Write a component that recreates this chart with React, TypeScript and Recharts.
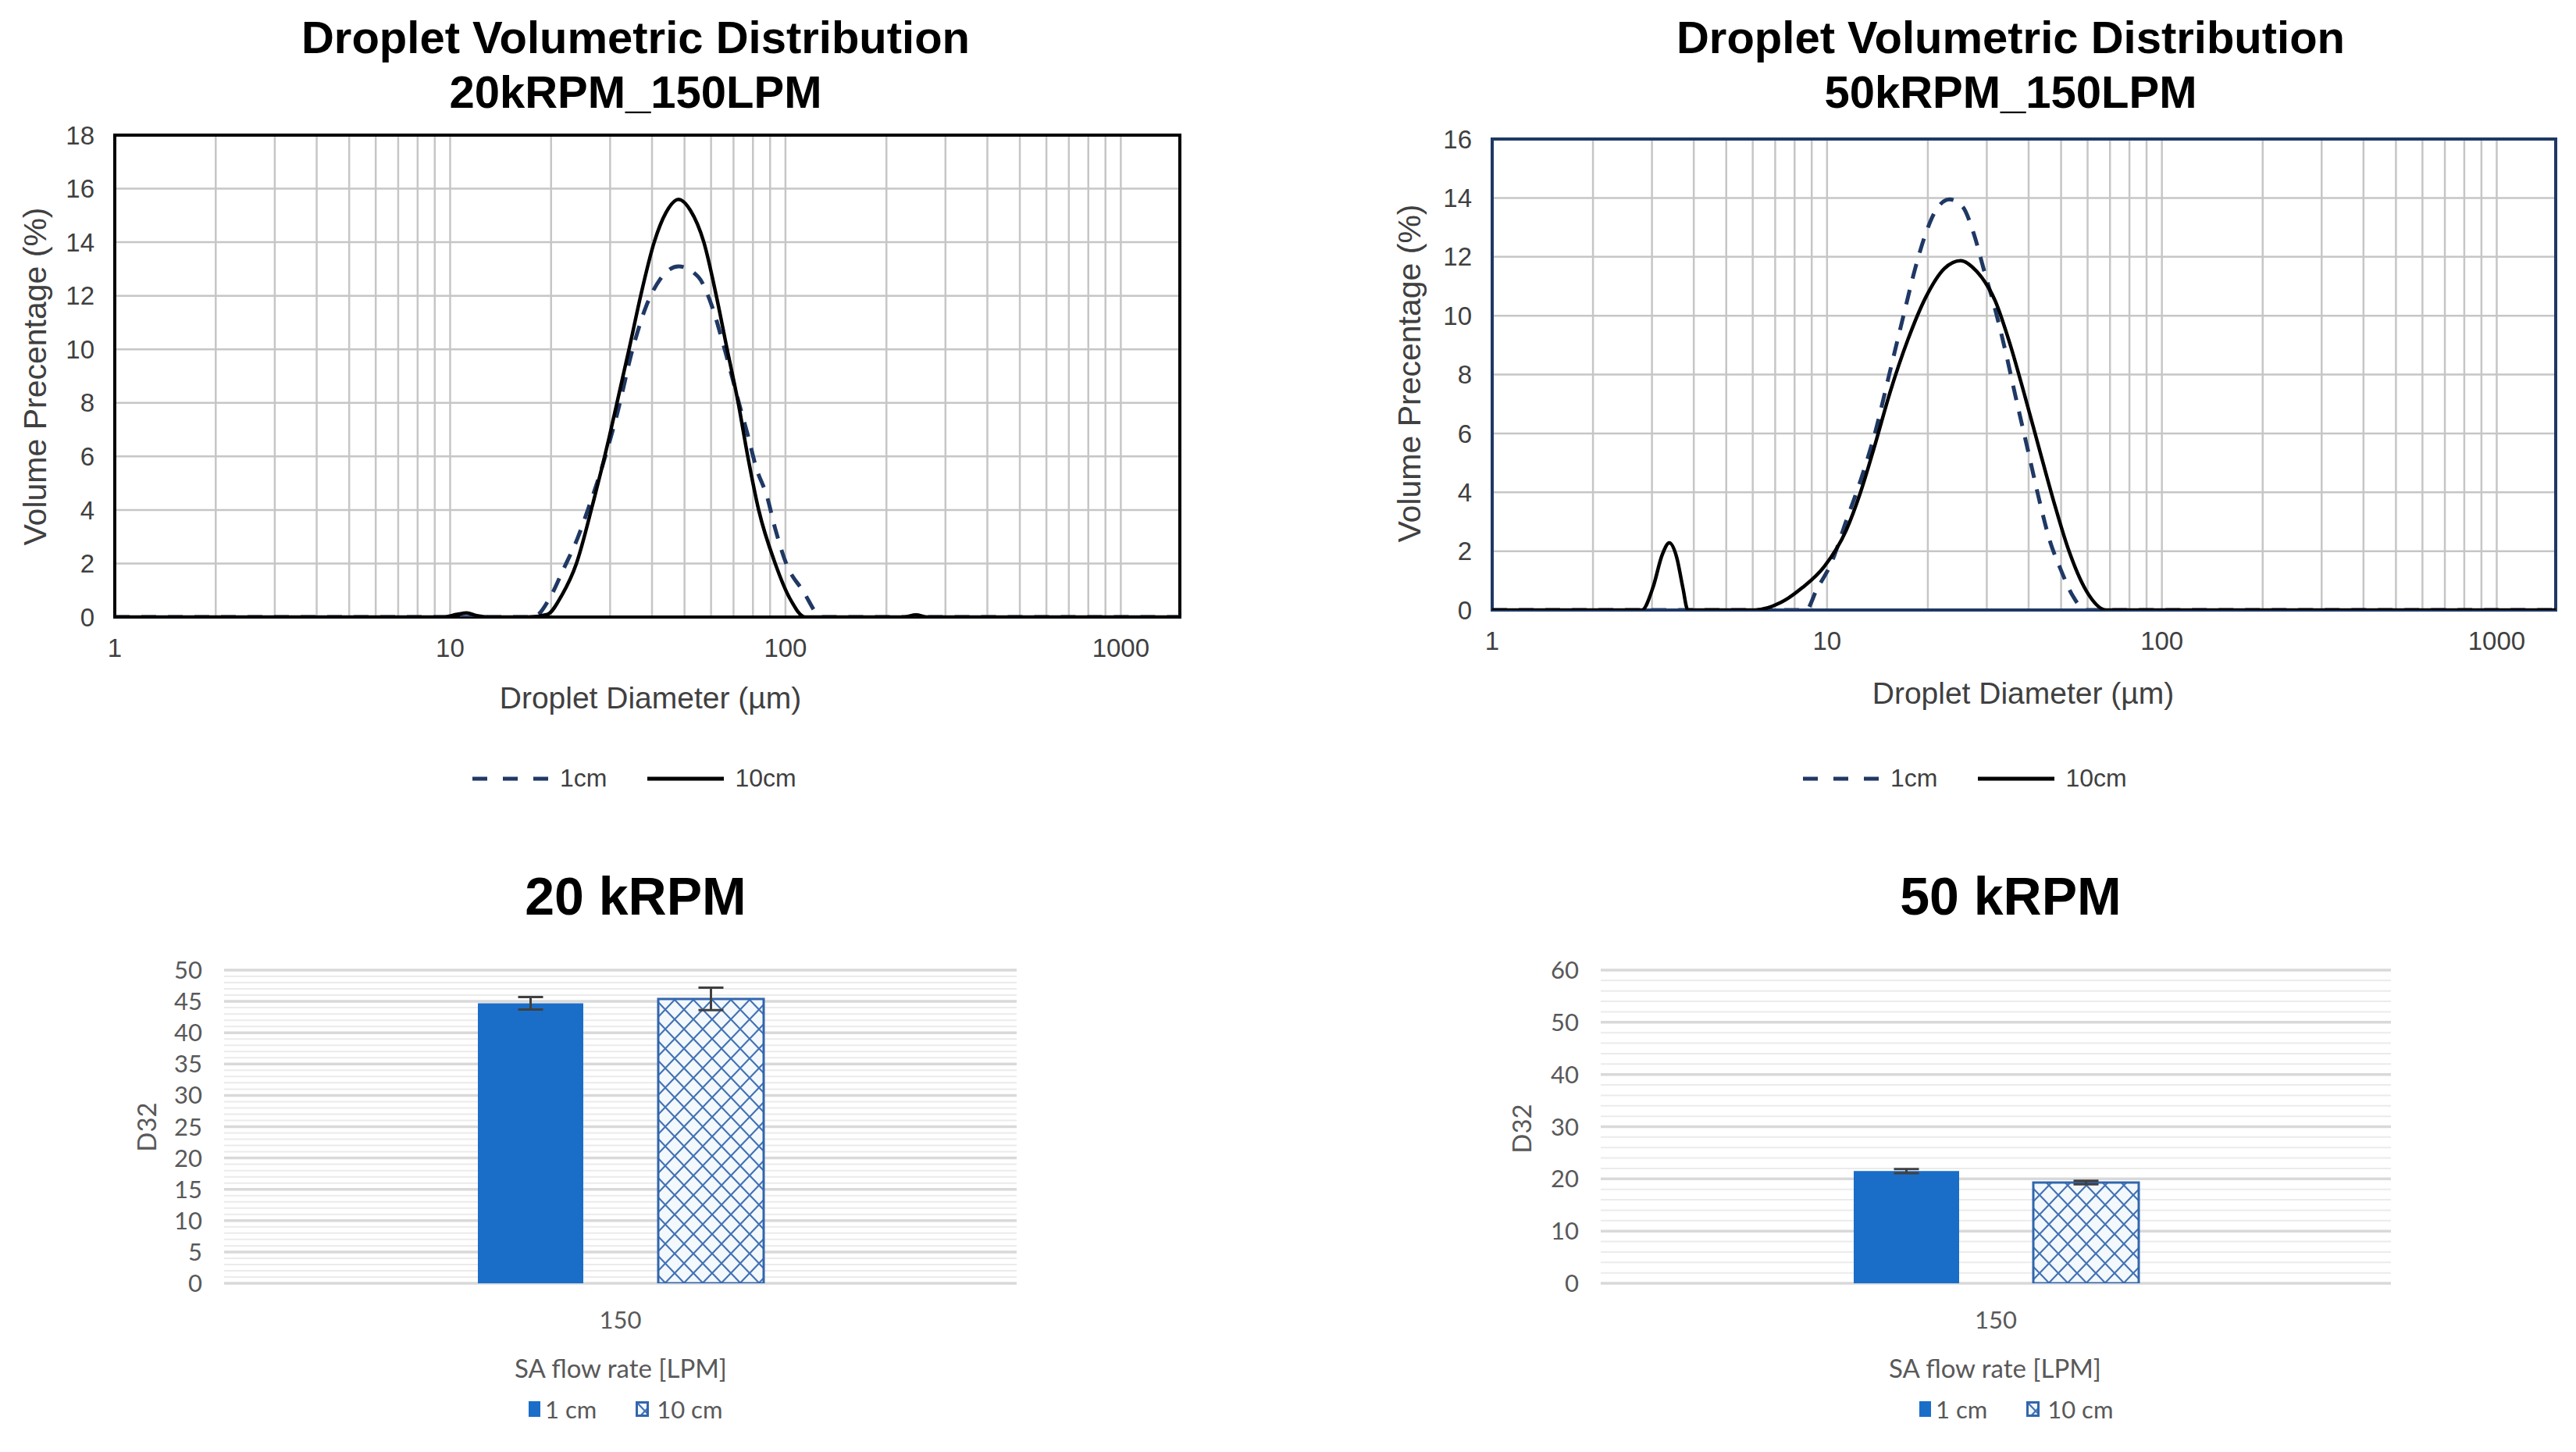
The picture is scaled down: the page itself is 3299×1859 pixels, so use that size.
import React from 'react'
import {
  LineChart,
  Line,
  XAxis,
  YAxis,
  CartesianGrid,
  ReferenceArea,
  BarChart,
  Bar,
  ErrorBar,
} from 'recharts'

// ---- droplet size distributions (diameter in µm, volume %) ----
const d20k1cm = [1, 10, 17.7, 19.9, 21.8, 24.0, 25.9, 27.9, 29.8, 31.5, 35.0, 38.4, 42.2, 48.0, 55.0, 60.4, 65.2, 73.0, 77.2, 81.7, 88.1, 93.2, 100.5, 112.5, 128.5, 1500]
const v20k1cm = [0, 0, 0, 0.75, 1.8, 2.95, 4.1, 5.3, 6.5, 7.6, 10.0, 11.6, 12.6, 13.1, 12.7, 11.6, 10.2, 7.9, 6.8, 5.6, 4.5, 3.3, 2.0, 1.0, 0, 0]

const d20k10cm = [1, 9.5, 10.5, 11.2, 12, 13, 17, 19.5, 21.5, 23.8, 26.6, 29.8, 32.1, 34.3, 37.0, 40.6, 44, 48.0, 52, 57.1, 62.2, 67.0, 72.3, 77.2, 83.2, 93.2, 103, 114.7, 225, 245, 265, 1500]
const v20k10cm = [0, 0, 0.1, 0.15, 0.05, 0, 0, 0.1, 0.8, 2, 4.2, 6.7, 8.5, 10.1, 12, 14, 15.1, 15.6, 15.2, 14, 12, 10, 8, 6, 4, 2, 0.7, 0, 0, 0.08, 0, 0]

const d50k1cm = [1, 8.65, 9.32, 10.3, 11.39, 12.59, 13.92, 15.38, 17.0, 18.33, 19.77, 21.3, 23.2, 25.4, 27.35, 29.5, 31.8, 34.3, 36.9, 39.8, 42.9, 46.2, 49.9, 53.7, 59.4, 1500]
const v50k1cm = [0, 0, 0.7, 1.6, 3.0, 4.4, 6.03, 8.06, 10.1, 11.6, 12.83, 13.64, 13.95, 13.7, 12.83, 11.5, 10.2, 8.67, 7.05, 5.43, 3.8, 2.38, 1.37, 0.56, 0, 0]

const d50k10cm = [1, 2.8, 3.02, 3.22, 3.38, 3.56, 3.71, 3.84, 6.1, 7.26, 8.44, 9.8, 11.39, 12.59, 13.92, 15.38, 17.43, 19.77, 22.4, 25.06, 28.0, 31.8, 35.1, 38.8, 42.9, 47.5, 52.5, 59.4, 68.2, 1500]
const v50k10cm = [0, 0, 0.76, 1.88, 2.28, 1.77, 0.76, 0, 0, 0.25, 0.76, 1.47, 2.69, 4.0, 5.63, 7.35, 9.18, 10.65, 11.6, 11.87, 11.5, 10.5, 9.08, 7.35, 5.53, 3.7, 2.08, 0.66, 0, 0]

const xTicks = [1, 10, 100, 1000]
const xGrid = [2, 3, 4, 5, 6, 7, 8, 9, 10, 20, 30, 40, 50, 60, 70, 80, 90, 100, 200, 300, 400, 500, 600, 700, 800, 900, 1000]
const yTicks20k = [0, 2, 4, 6, 8, 10, 12, 14, 16, 18]
const yTicks50k = [0, 2, 4, 6, 8, 10, 12, 14, 16]

// ---- D32 bars ----
const flowRates = ['150']
const d32_20k_1cm = [44.7]
const d32_20k_1cmErr = [1.0]
const d32_20k_10cm = [45.4]
const d32_20k_10cmErr = [1.8]
const d32_50k_1cm = [21.5]
const d32_50k_1cmErr = [0.4]
const d32_50k_10cm = [19.3]
const d32_50k_10cmErr = [0.35]

const barTicks20k = [0, 5, 10, 15, 20, 25, 30, 35, 40, 45, 50]
const barMinor20k = Array.from({ length: 51 }, (_, i) => i)
const barTicks50k = [0, 10, 20, 30, 40, 50, 60]
const barMinor50k = Array.from({ length: 31 }, (_, i) => i * 2)

const ARIAL = '"Liberation Sans", Arial, sans-serif'
const CALIBRI = 'Lato, "Open Sans", sans-serif'
const NAVY = '#1f3864'
const BLUE = '#1a6ec8'

const pts = (d: number[], v: number[]) => d.map((x, i) => ({ d: x, v: v[i] }))

function Txt({ x, y, children, style }: { x: number; y: number; children: React.ReactNode; style?: React.CSSProperties }) {
  return (
    <div
      style={{
        position: 'absolute',
        left: x,
        top: y,
        transform: 'translate(-50%, -50%)',
        whiteSpace: 'nowrap',
        lineHeight: 1,
        ...style,
      }}
    >
      {children}
    </div>
  )
}

function VTxt({ x, y, children, style }: { x: number; y: number; children: React.ReactNode; style?: React.CSSProperties }) {
  return (
    <div
      style={{
        position: 'absolute',
        left: x,
        top: y,
        transform: 'translate(-50%, -50%) rotate(-90deg)',
        whiteSpace: 'nowrap',
        lineHeight: 1,
        ...style,
      }}
    >
      {children}
    </div>
  )
}

interface DistProps {
  left: number
  width: number
  plotLeft: number
  plotRight: number
  plotTop: number
  plotBottom: number
  yMax: number
  yTicks: number[]
  frame: string
  dashed: { d: number; v: number }[]
  solid: { d: number; v: number }[]
}

function DistributionChart(p: DistProps) {
  const height = 1060
  return (
    <div style={{ position: 'absolute', left: p.left, top: 0 }}>
      <LineChart
        width={p.width}
        height={height}
        margin={{ top: p.plotTop, right: p.width - p.plotRight, left: 0, bottom: 0 }}
      >
        <CartesianGrid
          stroke="#c6c6c6"
          strokeWidth={2.5}
          verticalValues={xGrid}
          horizontalValues={p.yTicks}
        />
        <XAxis
          dataKey="d"
          type="number"
          scale="log"
          domain={[1, 1500]}
          ticks={xTicks}
          interval={0}
          allowDataOverflow
          axisLine={false}
          tickLine={false}
          tickMargin={22}
          height={height - p.plotBottom}
          tick={{ fill: '#404040', fontSize: 33, fontFamily: ARIAL }}
        />
        <YAxis
          type="number"
          domain={[0, p.yMax]}
          ticks={p.yTicks}
          interval={0}
          allowDataOverflow
          axisLine={false}
          tickLine={false}
          tickMargin={20}
          width={p.plotLeft}
          tick={{ fill: '#404040', fontSize: 33, fontFamily: ARIAL }}
        />
        <ReferenceArea x1={1} x2={1500} y1={0} y2={p.yMax} fill="none" stroke={p.frame} strokeWidth={4} />
        <Line
          data={p.dashed}
          dataKey="v"
          type="monotone"
          stroke={NAVY}
          strokeWidth={5}
          strokeDasharray="19 15"
          dot={false}
          isAnimationActive={false}
        />
        <Line
          data={p.solid}
          dataKey="v"
          type="monotone"
          stroke="#000"
          strokeWidth={4.5}
          dot={false}
          isAnimationActive={false}
        />
      </LineChart>
    </div>
  )
}

interface D32Props {
  left: number
  plotLeft: number
  plotRight: number
  yMax: number
  ticks: number[]
  minor: number[]
  a: number[]
  aErr: number[]
  b: number[]
  bErr: number[]
  barGap: number
}

function D32Chart(p: D32Props) {
  const width = 1600
  const height = 679
  const rows = flowRates.map((c, i) => ({ cat: c, a: p.a[i], aErr: p.aErr[i], b: p.b[i], bErr: p.bErr[i] }))
  return (
    <div style={{ position: 'absolute', left: p.left, top: 1180 }}>
      <BarChart
        width={width}
        height={height}
        data={rows}
        margin={{ top: 62, right: width - p.plotRight, left: 0, bottom: 0 }}
        barSize={135}
        barGap={p.barGap}
      >
        <CartesianGrid stroke="#ebebeb" strokeWidth={2} vertical={false} horizontalValues={p.minor} />
        <CartesianGrid stroke="#d9d9d9" strokeWidth={3.5} vertical={false} horizontalValues={p.ticks} />
        <XAxis
          dataKey="cat"
          axisLine={false}
          tickLine={false}
          tickMargin={30}
          height={height - 463}
          tick={{ fill: '#595959', fontSize: 31, fontFamily: CALIBRI }}
        />
        <YAxis
          domain={[0, p.yMax]}
          ticks={p.ticks}
          interval={0}
          allowDataOverflow
          axisLine={false}
          tickLine={false}
          tickMargin={22}
          width={p.plotLeft}
          tick={{ fill: '#595959', fontSize: 31, fontFamily: CALIBRI }}
        />
        <Bar dataKey="a" fill={BLUE} isAnimationActive={false}>
          <ErrorBar dataKey="aErr" width={16} stroke="#404040" strokeWidth={3} direction="y" />
        </Bar>
        <Bar dataKey="b" fill="url(#lattice)" stroke="#3266ad" strokeWidth={3} isAnimationActive={false}>
          <ErrorBar dataKey="bErr" width={16} stroke="#404040" strokeWidth={3} direction="y" />
        </Bar>
      </BarChart>
    </div>
  )
}

function LineLegend({ x }: { x: number }) {
  return (
    <div style={{ position: 'absolute', left: x, top: 978, display: 'flex', alignItems: 'center', fontFamily: ARIAL, fontSize: 32, color: '#404040' }}>
      <svg width={100} height={10}>
        <line x1={0} y1={5} x2={100} y2={5} stroke={NAVY} strokeWidth={5} strokeDasharray="19 20" />
      </svg>
      <span style={{ marginLeft: 12 }}>1cm</span>
      <svg width={98} height={10} style={{ marginLeft: 52 }}>
        <line x1={0} y1={5} x2={98} y2={5} stroke="#000" strokeWidth={5} />
      </svg>
      <span style={{ marginLeft: 14 }}>10cm</span>
    </div>
  )
}

function BarLegend({ x }: { x: number }) {
  return (
    <div style={{ position: 'absolute', left: x, top: 1785, display: 'flex', alignItems: 'center', fontFamily: CALIBRI, fontSize: 31, color: '#595959' }}>
      <svg width={15} height={20}>
        <rect x={0} y={0} width={15} height={20} fill={BLUE} />
      </svg>
      <span style={{ marginLeft: 6 }}>1 cm</span>
      <svg width={17} height={20} style={{ marginLeft: 50 }}>
        <rect x={1.5} y={1.5} width={14} height={17} fill="url(#lattice)" stroke="#3266ad" strokeWidth={3} />
      </svg>
      <span style={{ marginLeft: 10 }}>10 cm</span>
    </div>
  )
}

export default function App() {
  const titleStyle: React.CSSProperties = { fontFamily: ARIAL, fontWeight: 700, fontSize: 58, color: '#000' }
  const axisTitle: React.CSSProperties = { fontFamily: ARIAL, fontSize: 39, color: '#404040' }
  const yTitle: React.CSSProperties = { fontFamily: ARIAL, fontSize: 41, color: '#404040' }
  const barTitle: React.CSSProperties = { fontFamily: ARIAL, fontWeight: 700, fontSize: 68, color: '#000' }
  const barAxis: React.CSSProperties = { fontFamily: CALIBRI, fontSize: 33, color: '#595959' }

  return (
    <div style={{ position: 'absolute', left: 0, top: 0, width: 3299, height: 1859, background: '#fff', overflow: 'hidden' }}>
      <svg width={0} height={0} style={{ position: 'absolute' }}>
        <defs>
          <pattern id="lattice" width={24} height={25} patternUnits="userSpaceOnUse">
            <rect width={24} height={25} fill="#f3f8fd" />
            <path d="M0 0 L24 25 M24 0 L0 25 M-12 12.5 L0 25 M12 -12.5 L36 12.5" stroke="#4272b3" strokeWidth={2.2} fill="none" />
          </pattern>
        </defs>
      </svg>

      {/* top-left: 20 kRPM distribution */}
      <Txt x={814} y={48} style={titleStyle}>Droplet Volumetric Distribution</Txt>
      <Txt x={814} y={118} style={titleStyle}>20kRPM_150LPM</Txt>
      <DistributionChart
        left={0}
        width={1600}
        plotLeft={147}
        plotRight={1511}
        plotTop={173}
        plotBottom={790}
        yMax={18}
        yTicks={yTicks20k}
        frame="#000"
        dashed={pts(d20k1cm, v20k1cm)}
        solid={pts(d20k10cm, v20k10cm)}
      />
      <VTxt x={45} y={482} style={yTitle}>Volume Precentage (%)</VTxt>
      <Txt x={833} y={893} style={axisTitle}>Droplet Diameter (µm)</Txt>
      <LineLegend x={605} />

      {/* top-right: 50 kRPM distribution */}
      <Txt x={2575} y={48} style={titleStyle}>Droplet Volumetric Distribution</Txt>
      <Txt x={2575} y={118} style={titleStyle}>50kRPM_150LPM</Txt>
      <DistributionChart
        left={1700}
        width={1599}
        plotLeft={211}
        plotRight={1573}
        plotTop={178}
        plotBottom={781}
        yMax={16}
        yTicks={yTicks50k}
        frame={NAVY}
        dashed={pts(d50k1cm, v50k1cm)}
        solid={pts(d50k10cm, v50k10cm)}
      />
      <VTxt x={1805} y={478} style={yTitle}>Volume Precentage (%)</VTxt>
      <Txt x={2591} y={887} style={axisTitle}>Droplet Diameter (µm)</Txt>
      <LineLegend x={2309} />

      {/* bottom-left: D32 at 20 kRPM */}
      <Txt x={814} y={1147} style={barTitle}>20 kRPM</Txt>
      <D32Chart
        left={0}
        plotLeft={287}
        plotRight={1302}
        yMax={50}
        ticks={barTicks20k}
        minor={barMinor20k}
        a={d32_20k_1cm}
        aErr={d32_20k_1cmErr}
        b={d32_20k_10cm}
        bErr={d32_20k_10cmErr}
        barGap={96}
      />
      <VTxt x={187} y={1443} style={barAxis}>D32</VTxt>
      <Txt x={795} y={1751} style={barAxis}>SA flow rate [LPM]</Txt>
      <BarLegend x={677} />

      {/* bottom-right: D32 at 50 kRPM */}
      <Txt x={2575} y={1147} style={barTitle}>50 kRPM</Txt>
      <D32Chart
        left={1700}
        plotLeft={350}
        plotRight={1362}
        yMax={60}
        ticks={barTicks50k}
        minor={barMinor50k}
        a={d32_50k_1cm}
        aErr={d32_50k_1cmErr}
        b={d32_50k_10cm}
        bErr={d32_50k_10cmErr}
        barGap={95}
      />
      <VTxt x={1948} y={1445} style={barAxis}>D32</VTxt>
      <Txt x={2555} y={1751} style={barAxis}>SA flow rate [LPM]</Txt>
      <BarLegend x={2458} />
    </div>
  )
}
